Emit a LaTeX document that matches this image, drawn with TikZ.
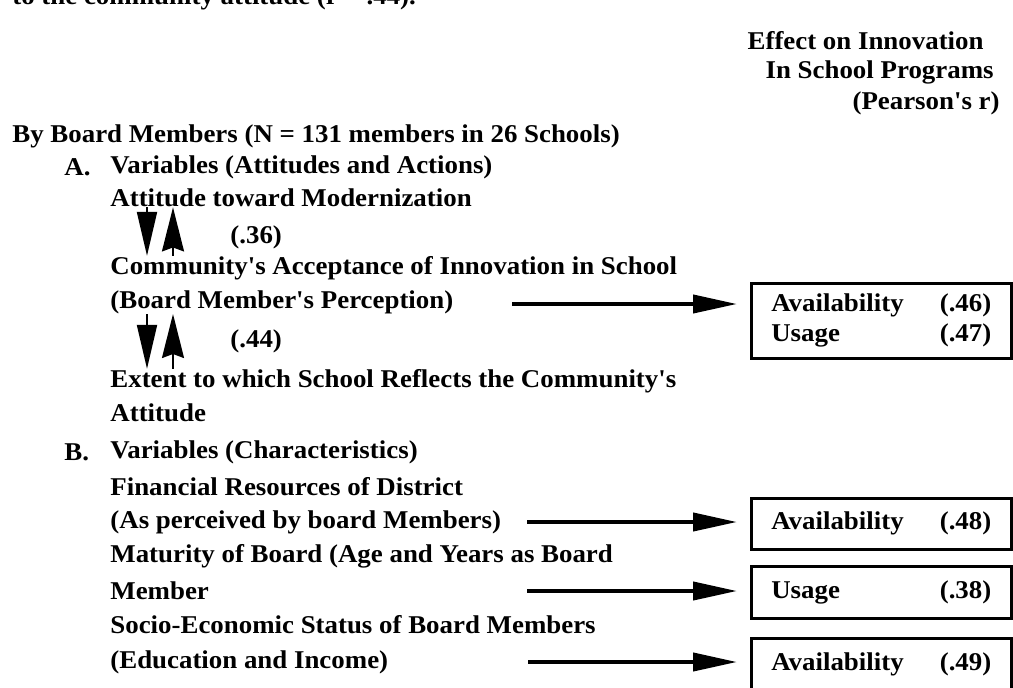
\documentclass[tikz,border=0pt]{standalone}
\usepackage{fontspec}
\newfontfamily\scanfont{Liberation Serif}[FakeStretch=1.05]
\usetikzlibrary{
    positioning,     % relative placement
    arrows.meta,     % Triangle and Stealth tips
    calc             % offsets from node anchors
}
\newcommand{\resrow}[2]{\makebox[110pt]{#1\hfill#2}}

\begin{document}
\begin{tikzpicture}[x=0.5pt, y=-0.5pt]

    % --- Style Definitions ---
    \tikzset{
        % one printed line of the table
        line/.style={
            anchor=west,
            inner sep=0pt,
            font={\scanfont\bfseries\fontsize{12.8pt}{15pt}\selectfont}
        },
        % framed result on the right
        result/.style={
            rectangle,
            draw,
            line width=1.3pt,
            anchor=north west,
            inner xsep=10pt,
            inner ysep=2pt,
            minimum width=130pt,
            align=left,
            font={\scanfont\bfseries\fontsize{12.8pt}{15pt}\selectfont}
        },
        % long arrows into the boxes
        arrow/.style={
            -{Triangle[length=22pt, width=9pt]},
            line width=2pt,
            shorten >=6.5pt
        },
        % short arrows between the attitude lines
        vdown/.style={-{Triangle[length=22pt, width=10pt]}, line width=1pt},
        vup/.style={-{Stealth[length=22pt, width=11pt, inset=2pt]}, line width=1pt}
    }

    \useasboundingbox (0,0) rectangle (1013,687);

    % --- Heading ---
    \node[line] (cont) at (12,-2) {to the community attitude (r = .44).};
    \node[line, anchor=east] (eff1) at (984,41) {Effect on Innovation};
    \node[line, anchor=east] (eff2) at (994,72) {In School Programs};
    \node[line, anchor=east] (eff3) at (1000,103) {(Pearson's r)};

    % --- Variables, part A ---
    \node[line] (board) at (12,136) {By Board Members (N = 131 members in 26 Schools)};
    \node[line] (lblA) at (64,167) {A.};
    \node[line] (varA) at (110,167) {Variables (Attitudes and Actions)};
    \node[line] (modern) at (110,198) {Attitude toward Modernization};
    \node[line] (r36) at (230,237) {(.36)};
    \node[line] (accept) at (110,268) {Community's Acceptance of Innovation in School};
    \node[line] (percep) at (110,302) {(Board Member's Perception)};
    \node[line] (r44) at (230,341) {(.44)};
    \node[line] (extent) at (110,381) {Extent to which School Reflects the Community's};
    \node[line] (extent2) at (110,413) {Attitude};

    % --- Variables, part B ---
    \node[line] (lblB) at (64,452) {B.};
    \node[line] (varB) at (110,452) {Variables (Characteristics)};
    \node[line] (finance) at (110,487) {Financial Resources of District};
    \node[line] (finance2) at (110,522) {(As perceived by board Members)};
    \node[line] (mature) at (110,556) {Maturity of Board (Age and Years as Board};
    \node[line] (mature2) at (110,591) {Member};
    \node[line] (socio) at (110,625) {Socio-Economic Status of Board Members};
    \node[line] (socio2) at (110,662) {(Education and Income)};

    % --- Result boxes ---
    \node[result, minimum height=37.5pt] (box1) at (750,282)
        {\resrow{Availability}{(.46)}\\\resrow{Usage}{(.47)}};
    \node[result, minimum height=25.5pt] (box2) at (750,497) {\resrow{Availability}{(.48)}};
    \node[result, minimum height=26pt] (box3) at (750,565) {\resrow{Usage}{(.38)}};
    \node[result, minimum height=26pt] (box4) at (750,637) {\resrow{Availability}{(.49)}};

    % --- Connections ---
    % two-way links between the attitude lines
    \draw[vdown] ($(modern.south west)+(37,0)$) -- ($(accept.north west)+(37,0)$);
    \draw[vup] ($(accept.north west)+(63,0)$) -- ($(modern.south west)+(63,0)$);
    \draw[vdown] ($(percep.south west)+(37,0)$) -- ($(extent.north west)+(37,0)$);
    \draw[vup] ($(extent.north west)+(63,0)$) -- ($(percep.south west)+(63,0)$);

    % arrows into the boxes
    \coordinate (s1) at (512,304);
    \coordinate (s2) at (527,522);
    \coordinate (s3) at (527,591);
    \coordinate (s4) at (528,662);
    \draw[arrow] (s1) -- (s1 -| box1.west);
    \draw[arrow] (s2) -- (s2 -| box2.west);
    \draw[arrow] (s3) -- (s3 -| box3.west);
    \draw[arrow] (s4) -- (s4 -| box4.west);

\end{tikzpicture}
\end{document}
